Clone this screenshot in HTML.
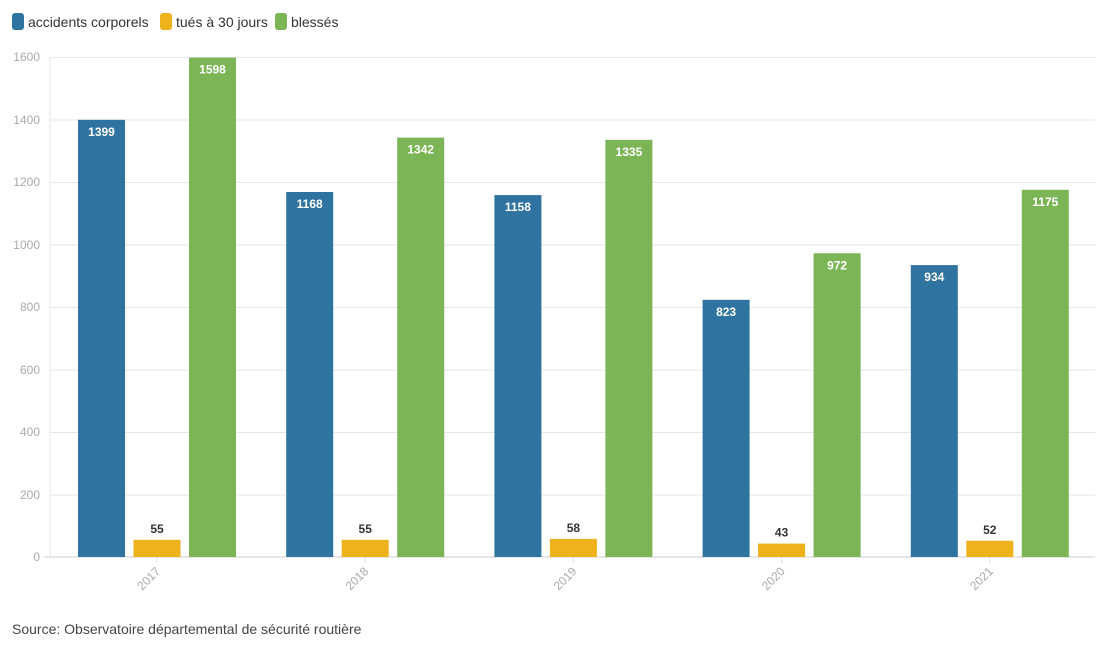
<!DOCTYPE html>
<html><head><meta charset="utf-8"><style>
body{margin:0;background:#fff;font-family:"Liberation Sans",sans-serif}
</style></head><body>
<svg width="1118" height="650" xmlns="http://www.w3.org/2000/svg" font-family="Liberation Sans, sans-serif">
<rect width="1118" height="650" fill="#fff"/>
<g font-size="14" fill="#333">
<rect x="12" y="13" width="12" height="17" rx="3" fill="#2f73a0"/><text x="28" y="27">accidents corporels</text>
<rect x="160" y="13" width="12" height="17" rx="3" fill="#edb21c"/><text x="176" y="27">tués à 30 jours</text>
<rect x="275" y="13" width="12" height="17" rx="3" fill="#7cb556"/><text x="291" y="27">blessés</text>
</g>
<g stroke="#e6e6e6" stroke-width="1">
<line x1="50" x2="1095" y1="57.5" y2="57.5"/><line x1="50" x2="1095" y1="120" y2="120"/>
<line x1="50" x2="1095" y1="182.5" y2="182.5"/><line x1="50" x2="1095" y1="245" y2="245"/>
<line x1="50" x2="1095" y1="307.5" y2="307.5"/><line x1="50" x2="1095" y1="370" y2="370"/>
<line x1="50" x2="1095" y1="432.5" y2="432.5"/><line x1="50" x2="1095" y1="495" y2="495"/>
<line x1="50" x2="50" y1="57" y2="557"/>
</g>
<line x1="44" x2="1095" y1="557" y2="557" stroke="#ddd" stroke-width="1.5"/>
<g font-size="12" fill="#aaa" text-anchor="end">
<text x="40" y="61">1600</text><text x="40" y="124">1400</text><text x="40" y="186">1200</text>
<text x="40" y="249">1000</text><text x="40" y="311">800</text><text x="40" y="374">600</text>
<text x="40" y="436">400</text><text x="40" y="499">200</text><text x="40" y="561">0</text>
</g>
<g fill="#2f73a0">
<rect x="78" y="119.8" width="47" height="437.2"/>
<rect x="286.2" y="192" width="47" height="365"/>
<rect x="494.4" y="195.1" width="47" height="361.9"/>
<rect x="702.6" y="299.8" width="47" height="257.2"/>
<rect x="910.8" y="265.1" width="47" height="291.9"/>
</g>
<g fill="#edb21c">
<rect x="133.5" y="539.8" width="47" height="17.2"/>
<rect x="341.7" y="539.8" width="47" height="17.2"/>
<rect x="549.9" y="538.9" width="47" height="18.1"/>
<rect x="758.1" y="543.6" width="47" height="13.4"/>
<rect x="966.3" y="540.75" width="47" height="16.25"/>
</g>
<g fill="#7cb556">
<rect x="189" y="57.6" width="47" height="499.4"/>
<rect x="397.2" y="137.6" width="47" height="419.4"/>
<rect x="605.4" y="139.8" width="47" height="417.2"/>
<rect x="813.6" y="253.25" width="47" height="303.75"/>
<rect x="1021.8" y="189.8" width="47" height="367.2"/>
</g>
<g font-size="12" font-weight="bold" fill="#fff" text-anchor="middle">
<text x="101.5" y="135.8">1399</text><text x="212.5" y="73.6">1598</text>
<text x="309.7" y="208">1168</text><text x="420.7" y="153.6">1342</text>
<text x="517.9" y="211.1">1158</text><text x="628.9" y="155.8">1335</text>
<text x="726.1" y="315.8">823</text><text x="837.1" y="269.25">972</text>
<text x="934.3" y="281.1">934</text><text x="1045.3" y="205.8">1175</text>
</g>
<g font-size="12" font-weight="bold" fill="#333" text-anchor="middle">
<text x="157" y="532.8">55</text><text x="365.2" y="532.8">55</text>
<text x="573.4" y="531.9">58</text><text x="781.6" y="536.6">43</text>
<text x="989.8" y="533.75">52</text>
</g>
<g stroke="#ddd">
<line x1="157" x2="157" y1="557" y2="563"/><line x1="365.2" x2="365.2" y1="557" y2="563"/>
<line x1="573.4" x2="573.4" y1="557" y2="563"/><line x1="781.6" x2="781.6" y1="557" y2="563"/>
<line x1="989.8" x2="989.8" y1="557" y2="563"/>
</g>
<g font-size="12" fill="#aaa" text-anchor="end">
<text transform="translate(161,572) rotate(-45)">2017</text>
<text transform="translate(369.2,572) rotate(-45)">2018</text>
<text transform="translate(577.4,572) rotate(-45)">2019</text>
<text transform="translate(785.6,572) rotate(-45)">2020</text>
<text transform="translate(993.8,572) rotate(-45)">2021</text>
</g>
<text x="12" y="634" font-size="14" fill="#444">Source: Observatoire départemental de sécurité routière</text>
</svg>
</body></html>
